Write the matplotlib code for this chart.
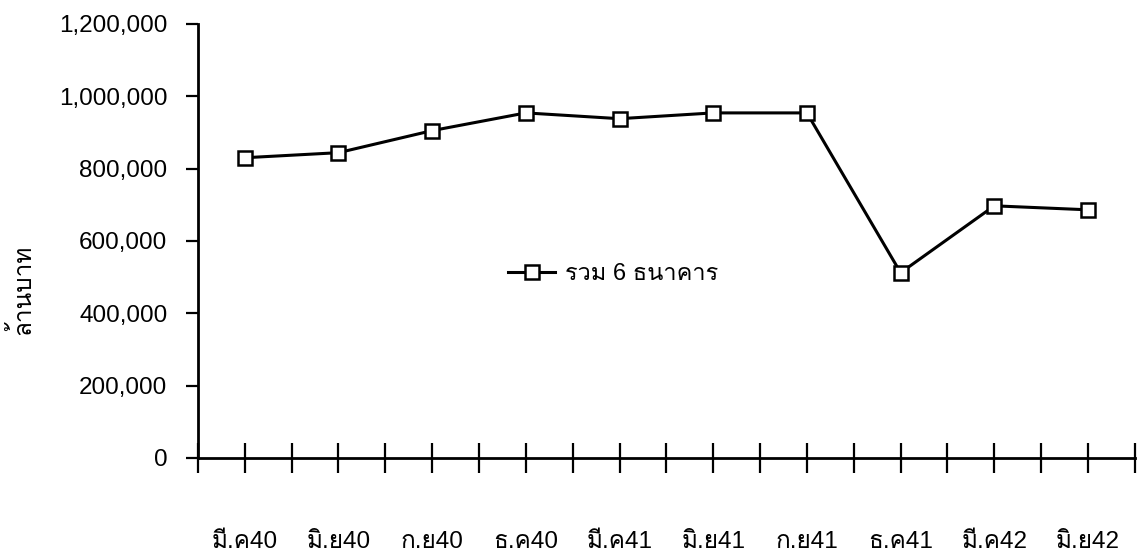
import numpy as np
import matplotlib
matplotlib.use('Agg')
import matplotlib.pyplot as plt
from matplotlib import font_manager
from matplotlib.ticker import FuncFormatter
from matplotlib.ft2font import FT2Font

# ข้อมูล
periods = ['มี.ค40', 'มิ.ย40', 'ก.ย40', 'ธ.ค40', 'มี.ค41',
           'มิ.ย41', 'ก.ย41', 'ธ.ค41', 'มี.ค42', 'มิ.ย42']
total_6_banks = [830000, 844000, 905000, 954000, 938000,
                 954000, 954000, 512000, 697000, 686000]
series_name = 'รวม 6 ธนาคาร'
y_label = 'ล้านบาท'

# procura uma fonte com glifos tailandeses
thai_font = None
for f in font_manager.fontManager.ttflist:
    try:
        if 0x0E21 in FT2Font(f.fname).get_charmap():
            thai_font = f.name
            break
    except Exception:
        pass

families = ['Liberation Sans']
if thai_font:
    families.append(thai_font)
families.append('DejaVu Sans')
plt.rcParams['font.family'] = families

fig = plt.figure(figsize=(11.44, 5.57), dpi=100)
ax = fig.add_axes([0.173, 0.178, 0.819, 0.779])

x = np.arange(len(periods))
ax.plot(x, total_6_banks, color='black', lw=2.2, marker='s', ms=9.5,
        mfc='white', mec='black', mew=1.8, label=series_name)

ax.set_xlim(-0.5, len(periods) - 0.5)
ax.set_ylim(0, 1200000)
ax.set_yticks(np.arange(0, 1200001, 200000))
ax.yaxis.set_major_formatter(FuncFormatter(lambda v, p: f'{int(v):,}'))

# marcas em todas as meias-categorias, rótulos no centro
ax.xaxis.remove_overlapping_locs = False
ax.set_xticks(np.arange(-0.5, len(periods), 0.5))
ax.set_xticklabels([''] * len(ax.get_xticks()))
ax.set_xticks(x, minor=True)
ax.set_xticklabels(periods, minor=True)
ax.tick_params(axis='x', which='major', direction='inout', length=22, width=1.6)
ax.tick_params(axis='x', which='minor', length=0, pad=53, labelsize=17.5)
ax.tick_params(axis='y', direction='out', length=9, width=1.6, pad=13, labelsize=17.5)

for s in ['top', 'right']:
    ax.spines[s].set_visible(False)
ax.spines['left'].set_linewidth(2)
ax.spines['bottom'].set_linewidth(2)

ax.set_ylabel(y_label, fontsize=17.5)
ax.yaxis.set_label_coords(-0.174, 0.387)

ax.legend(loc='center left', bbox_to_anchor=(0.331, 0.424), frameon=False,
          fontsize=17, borderaxespad=0, borderpad=0, handlelength=2.0,
          handletextpad=0.4)

fig.savefig('out.png', dpi=100)
